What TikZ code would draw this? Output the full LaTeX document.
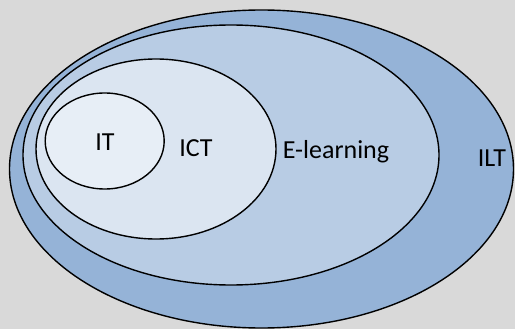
\documentclass[tikz,border=0pt]{standalone}
\usepackage{fontspec}
\setmainfont{Carlito}
\usetikzlibrary{shapes.geometric}
\definecolor{bg}{HTML}{D9D9D9}
\definecolor{ilt}{HTML}{95B3D7}
\definecolor{elc}{HTML}{B8CCE4}
\definecolor{ictc}{HTML}{DBE5F1}
\definecolor{itc}{HTML}{E7EEF6}
\tikzset{
  setell/.style={ellipse, draw=black, line width=1.4pt, inner sep=0pt},
  lbl/.style={font=\fontsize{26}{29}\selectfont, text=black, inner sep=0pt}
}
\begin{document}
\begin{tikzpicture}[x=1pt,y=-1pt]
\fill[bg] (0,0) rectangle (515,329);
\useasboundingbox (0,0) rectangle (515,329);
\node[setell, fill=ilt, minimum width=504pt, minimum height=318pt] (ilt) at (261.5,169) {};
\node[setell, fill=elc, minimum width=416pt, minimum height=260pt] (el) at (231,155) {};
\node[setell, fill=ictc, minimum width=240pt, minimum height=180pt] (ict) at (156,149) {};
\node[setell, fill=itc, minimum width=119pt, minimum height=96pt] (it) at (104.7,141) {};
\node[lbl] (tit) at (105,142) {IT};
\node[lbl] (tict) at (196,148) {ICT};
\node[lbl] (tel) at (336,152) {E-learning};
\node[lbl] (tilt) at (492,158) {ILT};
\end{tikzpicture}
\end{document}
